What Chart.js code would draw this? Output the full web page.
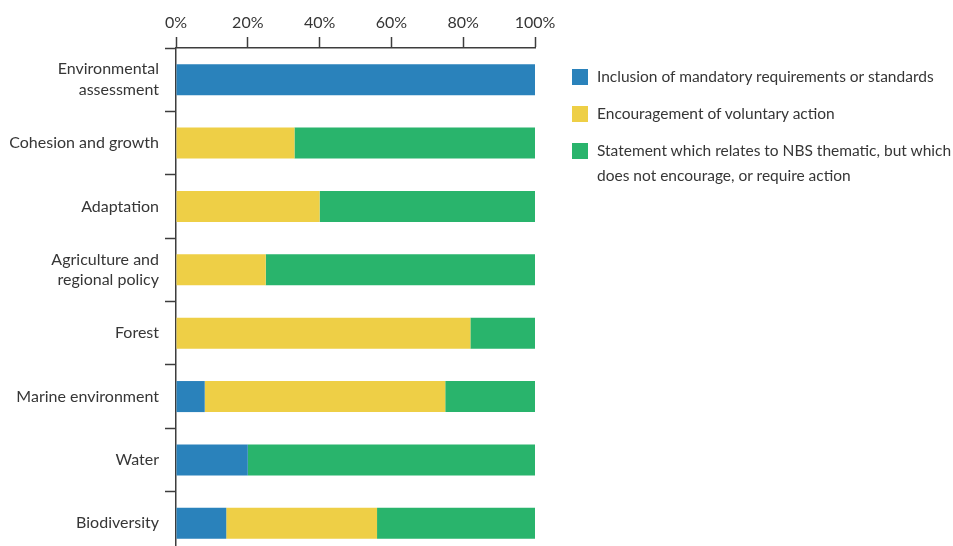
<!DOCTYPE html>
<html>
<head>
<meta charset="utf-8">
<script src="https://cdn.jsdelivr.net/npm/chart.js@4"></script>
<style>
  html, body { margin: 0; padding: 0; background: #fff; overflow: hidden; }
  #wrap { position: relative; width: 953px; height: 555px; }
  #legend {
    position: absolute; left: 572px; top: 64px;
    font-family: Lato, sans-serif;
    font-size: 15.5px; line-height: 25px; color: #363636;
  }
  .item { display: flex; align-items: flex-start; margin-bottom: 12px; white-space: nowrap; }
  .box { width: 16px; height: 16px; margin-top: 5px; margin-right: 9px; flex: none; }
</style>
</head>
<body>
<div id="wrap">
  <canvas id="myChart"></canvas>
  <div id="legend"></div>
</div>
<script>
// policy areas (rows, top to bottom)
const areas = [
  ["Environmental", "assessment"],
  "Cohesion and growth",
  "Adaptation",
  ["Agriculture and", "regional policy"],
  "Forest",
  "Marine environment",
  "Water",
  "Biodiversity"
];

// legend text, one line per entry
const seriesNames = [
  ["Inclusion of mandatory requirements or standards"],
  ["Encouragement of voluntary action"],
  ["Statement which relates to NBS thematic, but which", "does not encourage, or require action"]
];
const seriesColors = ["#2a82bb", "#eecf46", "#29b46c"];

// share of statements per area, in %
const mandatory = [100, 0, 0, 0, 0, 8, 20, 14];
const voluntary = [0, 33, 40, 25, 82, 67, 0, 42];
const statement = [0, 67, 60, 75, 18, 25, 80, 44];

const xTicks = [0, 20, 40, 60, 80, 100];

const axisColor = "#3d3d3d";
Chart.defaults.font.family = "Lato, sans-serif";
Chart.defaults.font.size = 16;
Chart.defaults.color = "#363636";

const seriesValues = [mandatory, voluntary, statement];
const datasets = seriesValues.map((values, i) => ({
  label: seriesNames[i].join(" "),
  data: values,
  backgroundColor: seriesColors[i],
  borderWidth: 0,
  categoryPercentage: 1,
  barPercentage: 0.49
}));

const config = {
  type: "bar",
  data: { labels: areas, datasets: datasets },
  options: {
    indexAxis: "y",
    responsive: true,
    maintainAspectRatio: false,
    animation: false,
    layout: { padding: { top: 0, right: 418, bottom: 0, left: 0 } },
    plugins: {
      legend: { display: false },
      tooltip: { enabled: false }
    },
    scales: {
      x: {
        position: "top",
        stacked: true,
        min: 0,
        max: 100,
        afterBuildTicks: (scale) => {
          scale.ticks = xTicks.map((v) => ({ value: v }));
        },
        afterFit: (scale) => {
          scale.height = 48;
        },
        ticks: {
          padding: 5,
          font: { lineHeight: 1.2 },
          callback: (v) => v + "%"
        },
        grid: {
          drawOnChartArea: false,
          tickLength: 11,
          tickWidth: 1.5,
          tickColor: axisColor
        },
        border: { color: axisColor, width: 1.5 }
      },
      y: {
        stacked: true,
        afterFit: (scale) => {
          // fixed label column, and let the last row run to the canvas edge
          scale.width = 176;
          scale.paddingTop = 0;
          scale.paddingBottom = 0;
        },
        ticks: {
          padding: 6,
          font: { lineHeight: 1.3 }
        },
        grid: {
          drawOnChartArea: false,
          tickLength: 11,
          tickWidth: 1.5,
          tickColor: axisColor
        },
        border: { color: axisColor, width: 1.5 }
      }
    }
  }
};

const myChart = new Chart(document.getElementById("myChart"), config);

// legend next to the plot, built from the datasets
const legend = document.getElementById("legend");
myChart.data.datasets.forEach((ds, i) => {
  const item = document.createElement("div");
  item.className = "item";
  const box = document.createElement("span");
  box.className = "box";
  box.style.background = ds.backgroundColor;
  const text = document.createElement("span");
  text.innerHTML = seriesNames[i].join("<br>");
  item.appendChild(box);
  item.appendChild(text);
  legend.appendChild(item);
});
</script>
</body>
</html>
